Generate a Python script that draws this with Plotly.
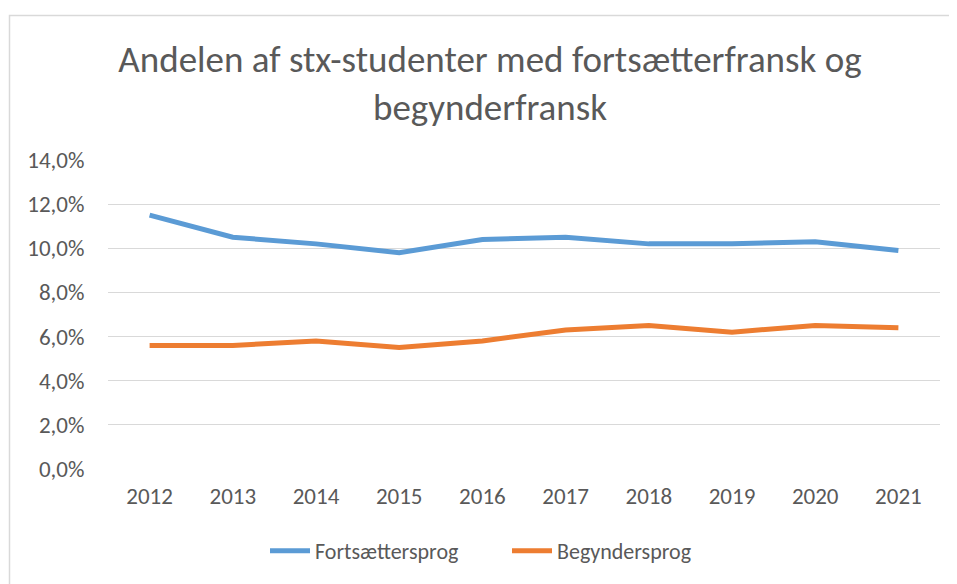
import plotly.graph_objects as go

years = ["2012", "2013", "2014", "2015", "2016", "2017", "2018", "2019", "2020", "2021"]
fortsaetter = [11.5, 10.5, 10.2, 9.8, 10.4, 10.5, 10.2, 10.2, 10.3, 9.9]
begynder = [5.6, 5.6, 5.8, 5.5, 5.8, 6.3, 6.5, 6.2, 6.5, 6.4]
y_ticks = [0, 2, 4, 6, 8, 10, 12, 14]
y_tick_labels = ["0,0%", "2,0%", "4,0%", "6,0%", "8,0%", "10,0%", "12,0%", "14,0%"]

W, H = 957, 584
L, R, T, B = 100, 25, 152, 123
pw, ph = W - L - R, H - T - B

FONT = "Calibri, Carlito, Lato, sans-serif"
TXT = "#595959"

fig = go.Figure()
fig.add_trace(go.Scatter(x=years, y=fortsaetter, mode="lines", name="Fortsættersprog",
                         line=dict(color="#5B9BD5", width=5)))
fig.add_trace(go.Scatter(x=years, y=begynder, mode="lines", name="Begyndersprog",
                         line=dict(color="#ED7D31", width=5)))

bx = (1.5 - L) / pw
by = (H - B - 7.5) / ph
fig.add_shape(type="path", xref="paper", yref="paper",
              path=f"M {bx} -1 L {bx} {by} L 1.2 {by}",
              line=dict(color="#D9D9D9", width=1.5))

fig.update_layout(
    width=W, height=H,
    margin=dict(l=L, r=R, t=T, b=B),
    paper_bgcolor="white", plot_bgcolor="white",
    font=dict(family=FONT, color=TXT, size=22),
    title=dict(text="Andelen af stx-studenter med fortsætterfransk og<br>begynderfransk",
               x=482 / W, xanchor="center", xref="container",
               y=1 - 64 / H, yanchor="top", yref="container",
               font=dict(family=FONT, size=37, color=TXT)),
    xaxis=dict(type="category", range=[-0.5, 9.5], showgrid=False, zeroline=False,
               showline=False, ticks="outside", ticklen=6, tickcolor="rgba(0,0,0,0)",
               ticklabelstandoff=0,
               tickfont=dict(size=23, color=TXT)),
    yaxis=dict(range=[0, 14], tickvals=y_ticks, ticktext=y_tick_labels,
               showgrid=True, gridcolor="#D9D9D9", gridwidth=1.3, zeroline=False,
               showline=False, ticks="outside", ticklen=10, tickcolor="rgba(0,0,0,0)",
               ticklabelstandoff=8,
               tickfont=dict(size=23, color=TXT)),
    legend=dict(orientation="h", xref="container", x=499 / W, xanchor="center",
                yref="container", y=41 / H, yanchor="middle",
                font=dict(size=22, color=TXT), itemwidth=40, tracegroupgap=0,
                entrywidth=187),
    showlegend=True,
)

fig.write_html("out.html")
